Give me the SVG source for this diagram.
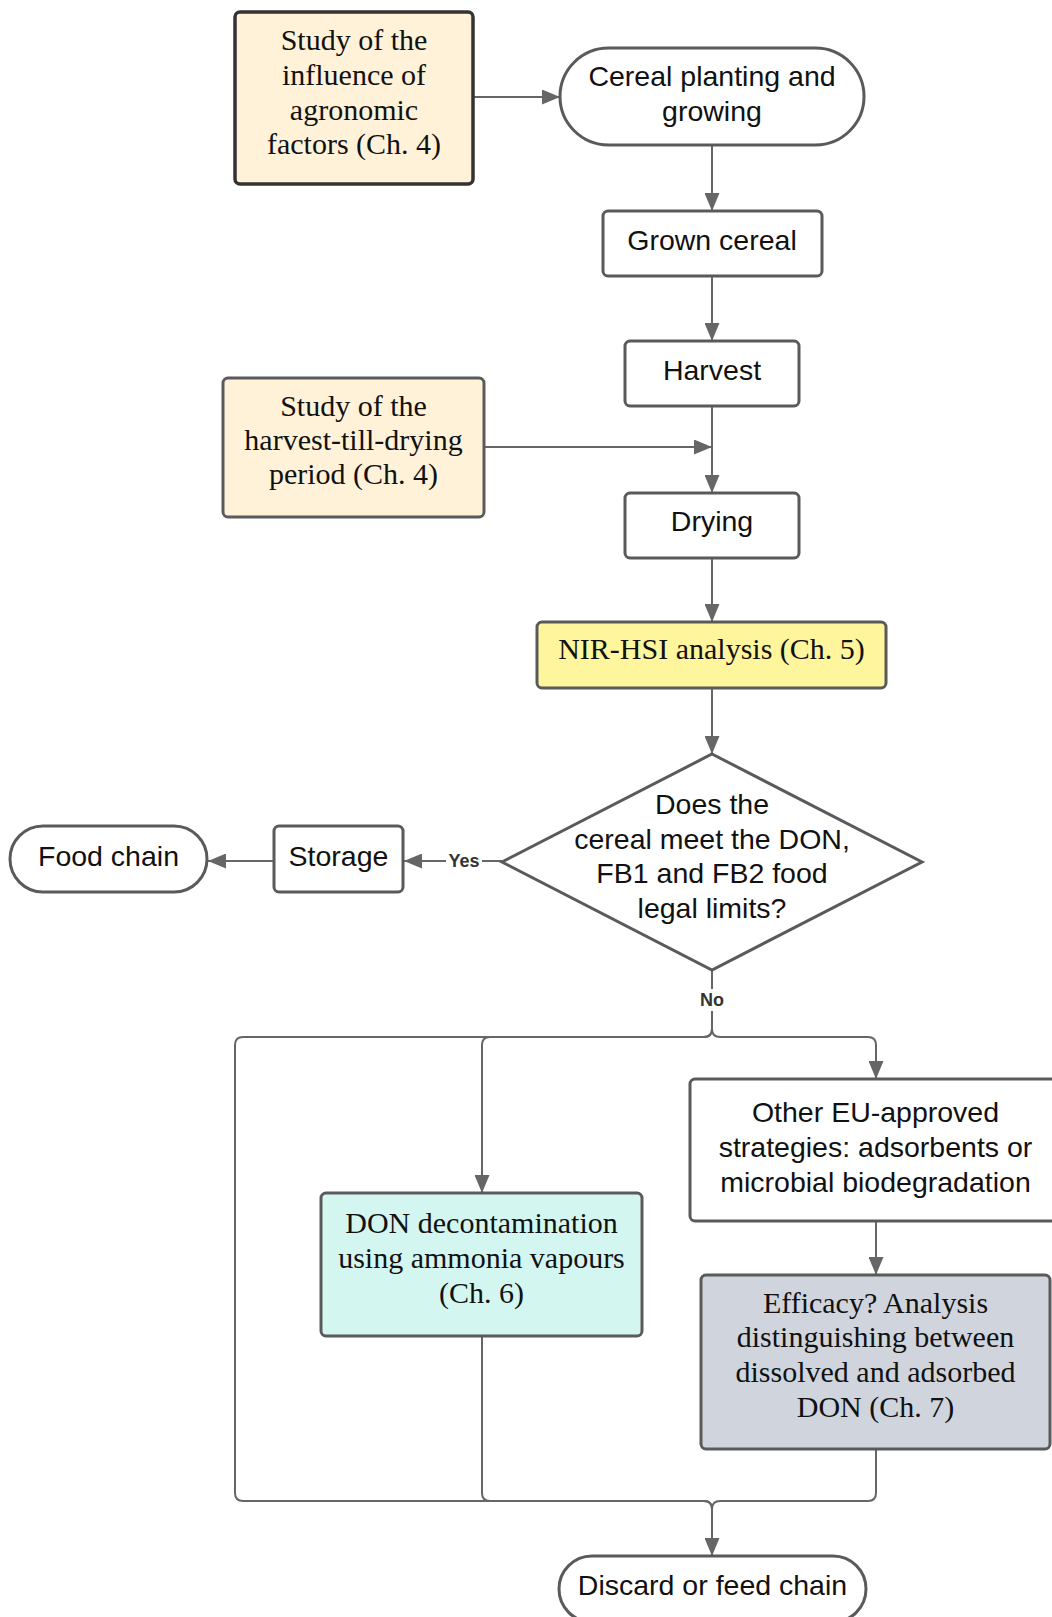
<svg xmlns="http://www.w3.org/2000/svg" width="1052" height="1617" viewBox="0 0 1052 1617">
<style>
.node{stroke:#5a5a5a;stroke-width:3;fill:#ffffff}
.dark{stroke:#333333;stroke-width:3.5}
.beige{fill:#fff2d9}
.yellow{fill:#fff59d}
.mint{fill:#d4f6f0}
.grey{fill:#d0d5dd}
.sans{font-family:"Liberation Sans",Arial,sans-serif;font-size:28.5px;fill:#111;text-anchor:middle}
.serif{font-family:"Liberation Serif","Times New Roman",serif;font-size:30px;fill:#111;text-anchor:middle}
.lbl{font-family:"Liberation Sans",Arial,sans-serif;font-size:18px;font-weight:bold;fill:#333;text-anchor:middle}
.conn{fill:none;stroke:#666666;stroke-width:2}
</style>
<defs>
<marker id="arr" markerUnits="userSpaceOnUse" markerWidth="19" markerHeight="15" refX="18" refY="7.5" orient="auto">
<path d="M0,0 L18,7.5 L0,15 z" fill="#666666"/>
</marker>
</defs>
<rect width="1052" height="1617" fill="#ffffff"/>
<g id="connectors">
<path class="conn" d="M473,97 L560,97" marker-end="url(#arr)"/>
<path class="conn" d="M712,145 L712,211" marker-end="url(#arr)"/>
<path class="conn" d="M712,276 L712,341" marker-end="url(#arr)"/>
<path class="conn" d="M712,406 L712,493" marker-end="url(#arr)"/>
<path class="conn" d="M484,447 L712,447" marker-end="url(#arr)"/>
<path class="conn" d="M712,558 L712,622" marker-end="url(#arr)"/>
<path class="conn" d="M712,688 L712,754" marker-end="url(#arr)"/>
<path class="conn" d="M502,861 L404,861" marker-end="url(#arr)"/>
<path class="conn" d="M274,861 L208,861" marker-end="url(#arr)"/>
<path class="conn" d="M712,970 L712,1029 Q712,1037 704,1037 L243,1037 Q235,1037 235,1045 L235,1493 Q235,1501 243,1501 L704,1501 Q712,1501 712,1509 L712,1556" marker-end="url(#arr)"/>
<path class="conn" d="M712,970 L712,1029 Q712,1037 704,1037 L490,1037 Q482,1037 482,1045 L482,1193" marker-end="url(#arr)"/>
<path class="conn" d="M712,970 L712,1029 Q712,1037 720,1037 L868,1037 Q876,1037 876,1045 L876,1079" marker-end="url(#arr)"/>
<path class="conn" d="M876,1221 L876,1275" marker-end="url(#arr)"/>
<path class="conn" d="M482,1336 L482,1493 Q482,1501 490,1501 L704,1501 Q712,1501 712,1509 L712,1540"/>
<path class="conn" d="M876,1449 L876,1493 Q876,1501 868,1501 L720,1501 Q712,1501 712,1509 L712,1540"/>
<rect x="446" y="851" width="36" height="20" fill="#ffffff"/>
<text class="lbl" x="464" y="867">Yes</text>
<rect x="697" y="989" width="30" height="22" fill="#ffffff"/>
<text class="lbl" x="712" y="1006">No</text>
</g>
<g id="study-agronomic">
<rect class="node dark beige" x="235" y="12" width="238" height="172" rx="5"/>
<text class="serif" x="354" y="50">Study of the</text>
<text class="serif" x="354" y="85">influence of</text>
<text class="serif" x="354" y="119.5">agronomic</text>
<text class="serif" x="354" y="154">factors (Ch. 4)</text>
</g>
<g id="planting">
<rect class="node" x="560" y="48" width="304" height="97" rx="48.5"/>
<text class="sans" x="712" y="86">Cereal planting and</text>
<text class="sans" x="712" y="121">growing</text>
</g>
<g id="grown">
<rect class="node" x="603" y="211" width="219" height="65" rx="5"/>
<text class="sans" x="712" y="250">Grown cereal</text>
</g>
<g id="harvest">
<rect class="node" x="625" y="341" width="174" height="65" rx="5"/>
<text class="sans" x="712" y="380">Harvest</text>
</g>
<g id="study-harvest">
<rect class="node beige" x="223" y="378" width="261" height="139" rx="5"/>
<text class="serif" x="353.5" y="416">Study of the</text>
<text class="serif" x="353.5" y="450">harvest-till-drying</text>
<text class="serif" x="353.5" y="484">period (Ch. 4)</text>
</g>
<g id="drying">
<rect class="node" x="625" y="493" width="174" height="65" rx="5"/>
<text class="sans" x="712" y="531">Drying</text>
</g>
<g id="nir">
<rect class="node yellow" x="537" y="622" width="349" height="66" rx="5"/>
<text class="serif" x="711.5" y="659">NIR-HSI analysis (Ch. 5)</text>
</g>
<g id="decision">
<polygon class="node" points="712,754 922,862 712,970 502,862"/>
<text class="sans" x="712" y="814">Does the</text>
<text class="sans" x="712" y="848.5">cereal meet the DON,</text>
<text class="sans" x="712" y="883">FB1 and FB2 food</text>
<text class="sans" x="712" y="917.5">legal limits?</text>
</g>
<g id="storage">
<rect class="node" x="274" y="826" width="129" height="66" rx="5"/>
<text class="sans" x="338.5" y="866">Storage</text>
</g>
<g id="food-chain">
<rect class="node" x="10" y="826" width="197" height="66" rx="33"/>
<text class="sans" x="108.5" y="866">Food chain</text>
</g>
<g id="other-eu">
<rect class="node" x="690" y="1079" width="371" height="142" rx="5"/>
<text class="sans" x="875.5" y="1122">Other EU-approved</text>
<text class="sans" x="875.5" y="1156.5">strategies: adsorbents or</text>
<text class="sans" x="875.5" y="1191.5">microbial biodegradation</text>
</g>
<g id="don-decontamination">
<rect class="node mint" x="321" y="1193" width="321" height="143" rx="5"/>
<text class="serif" x="481.5" y="1233">DON decontamination</text>
<text class="serif" x="481.5" y="1268">using ammonia vapours</text>
<text class="serif" x="481.5" y="1303">(Ch. 6)</text>
</g>
<g id="efficacy">
<rect class="node grey" x="701" y="1275" width="349" height="174" rx="5"/>
<text class="serif" x="875.5" y="1313">Efficacy? Analysis</text>
<text class="serif" x="875.5" y="1347">distinguishing between</text>
<text class="serif" x="875.5" y="1382">dissolved and adsorbed</text>
<text class="serif" x="875.5" y="1416.5">DON (Ch. 7)</text>
</g>
<g id="discard">
<rect class="node" x="559" y="1556" width="307" height="66" rx="33"/>
<text class="sans" x="712.5" y="1595">Discard or feed chain</text>
</g>
</svg>
